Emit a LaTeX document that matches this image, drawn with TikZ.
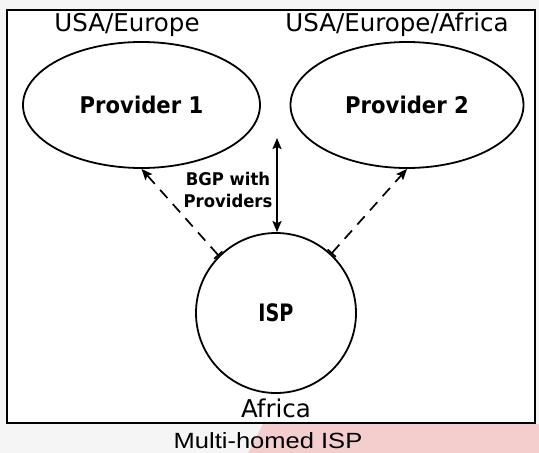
\documentclass[tikz,border=0pt]{standalone}
\usepackage{fontspec}
\setmainfont{DejaVu Sans}
\newfontfamily\capfont{Liberation Sans}
\usetikzlibrary{arrows.meta,shapes.geometric}
\definecolor{bggray}{HTML}{F5F5F5}
\definecolor{pinkbg}{HTML}{F4CDCD}
\begin{document}
\begin{tikzpicture}[x=1pt,y=-1pt,
  region/.style={draw, ellipse, line width=1.8pt, inner sep=0pt,
     font=\bfseries\fontsize{23}{23}\selectfont},
  ispnode/.style={draw, circle, line width=1.8pt, inner sep=0pt, minimum size=160pt},
  loclabel/.style={inner sep=0pt, font=\fontsize{24.5}{24.5}\selectfont},
  bgplabel/.style={inner sep=0pt, align=center, font=\bfseries\fontsize{17.5}{22}\selectfont},
  caplabel/.style={inner sep=0pt, font=\capfont\fontsize{22}{22}\selectfont},
  peerarrow/.style={line width=1.7pt, dash pattern=on 11pt off 8pt,
     {Bar[width=11pt]}-{Stealth[length=11pt,width=9pt,inset=2pt]}},
  bgparrow/.style={line width=1.7pt,
     {Stealth[length=11pt,width=9pt,inset=2pt]}-{Stealth[length=11pt,width=9pt,inset=2pt]}}
]
\useasboundingbox (0,0) rectangle (539,453);
\fill[bggray] (0,0) rectangle (539,453);
\fill[pinkbg] (263,424) -- (539,424) -- (539,453) -- (248,453) -- cycle;
\draw[fill=white, line width=1.4pt] (7,10) rectangle (535,423);

\node[region, minimum width=237pt, minimum height=126pt] (p1) at (141.5,105) {\scalebox{0.92}[1]{Provider 1}};
\node[region, minimum width=233pt, minimum height=126pt] (p2) at (407,105) {\scalebox{0.92}[1]{Provider 2}};
\node[ispnode] (isp) at (276,313) {\bfseries\fontsize{24}{24}\selectfont\scalebox{0.8}[1]{ISP}};

\node[loclabel] (l1) at (127,25) {USA/Europe};
\node[loclabel] (l2) at (397,25) {USA/Europe/Africa};
\node[loclabel] (l3) at (276,408) {Africa};
\node[bgplabel] (bgp) at (228,190) {\scalebox{0.94}[1]{BGP with}\\\scalebox{0.94}[1]{Providers}};
\node[caplabel] (cap) at (268,441) {\scalebox{1.16}[1]{Multi-homed ISP}};

\coordinate (bgptop) at (277,138);
\draw[bgparrow] (bgptop) -- (isp.north -| bgptop);
\draw[peerarrow] (isp.135) -- (p1.south);
\draw[peerarrow] (isp.47) -- (p2.south);
\end{tikzpicture}
\end{document}
